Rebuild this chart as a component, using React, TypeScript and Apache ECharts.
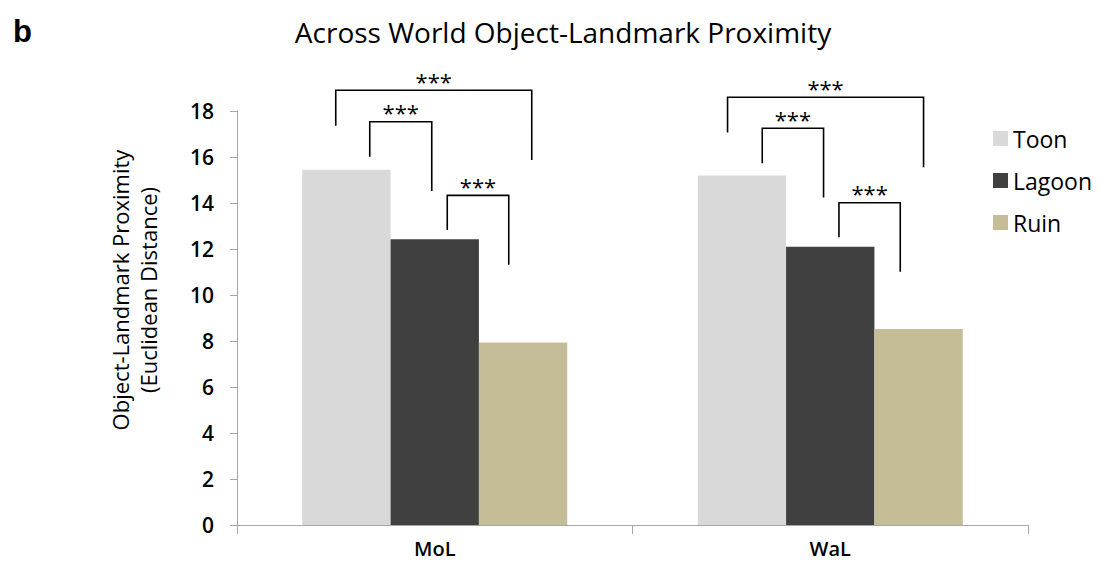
import React, { useEffect, useRef } from "react";
import * as echarts from "echarts";

// Worlds on the x axis and the three environments drawn as bars
const worlds = ["MoL", "WaL"];
const toon = [15.45, 15.2];
const lagoon = [12.42, 12.1];
const ruin = [7.94, 8.52];
const yTicks = { min: 0, max: 18, interval: 2 };

// Significance brackets: world index, horizontal offsets from the world centre (px),
// then the bracket top and the lower ends of the left / right legs (data units)
const bracketWorld = [0, 0, 0, 1, 1, 1];
const bracketTop = [18.9, 17.53, 14.33, 18.6, 17.25, 14.01];
const bracketLeftEnd = [17.36, 16.01, 12.83, 17.06, 15.73, 12.51];
const bracketRightEnd = [15.87, 14.52, 11.32, 15.55, 14.24, 11.01];
const bracketLabel = ["***", "***", "***", "***", "***", "***"];
const bracketDx: [number, number][] = [
  [-99, 97],
  [-65, -3],
  [12.5, 74],
  [-102.7, 93.3],
  [-68, -6.7],
  [8.7, 70],
];

const FONT = "'Open Sans', 'Noto Sans', sans-serif";
const COLORS = ["#d9d9d9", "#404040", "#c4bd97"];

export default function App() {
  const ref = useRef<HTMLDivElement>(null);

  useEffect(() => {
    if (!ref.current) return;
    const chart = echarts.init(ref.current, undefined, { renderer: "svg" });

    const option: any = {
      animation: false,
      color: COLORS,
      textStyle: { fontFamily: FONT },
      grid: { left: 237, right: 71, top: 111, bottom: 45, containLabel: false },
      legend: {
        orient: "vertical",
        left: 988,
        top: 122,
        itemWidth: 15,
        itemHeight: 15,
        itemGap: 19,
        icon: "rect",
        textStyle: { fontSize: 23, color: "#000", fontFamily: FONT, padding: [0, 0, 0, 0] },
        data: ["Toon", "Lagoon", "Ruin"],
      },
      xAxis: {
        type: "category",
        data: worlds,
        axisLine: { lineStyle: { color: "#a6a6a6", width: 1 } },
        axisTick: { show: true, length: 9, lineStyle: { color: "#a6a6a6" } },
        axisLabel: { fontSize: 20, fontWeight: 600, color: "#000", margin: 13, fontFamily: FONT },
      },
      yAxis: {
        type: "value",
        min: yTicks.min,
        max: yTicks.max,
        interval: yTicks.interval,
        axisLine: { show: true, lineStyle: { color: "#a6a6a6", width: 1 } },
        axisTick: { show: true, length: 7, lineStyle: { color: "#a6a6a6" } },
        splitLine: { show: false },
        axisLabel: { fontSize: 21, fontWeight: 600, color: "#000", margin: 23, fontFamily: FONT },
      },
      series: [
        { name: "Toon", type: "bar", data: toon, barGap: "0%", barCategoryGap: "33%" },
        { name: "Lagoon", type: "bar", data: lagoon, barGap: "0%", barCategoryGap: "33%" },
        { name: "Ruin", type: "bar", data: ruin, barGap: "0%", barCategoryGap: "33%" },
      ],
    };
    chart.setOption(option);

    const px = (w: number, v: number) => chart.convertToPixel({ gridIndex: 0 }, [w, v]) as number[];

    const graphics: any[] = [
      {
        type: "text",
        left: 13,
        top: 16,
        style: { text: "b", font: "bold 31px 'Liberation Sans', Arial, sans-serif", fill: "#000" },
      },
      {
        type: "text",
        x: 563,
        y: 32,
        style: {
          text: "Across World Object-Landmark Proximity",
          font: `28px ${FONT}`,
          fill: "#000",
          align: "center",
          verticalAlign: "middle",
        },
      },
      {
        type: "text",
        x: 134,
        y: 290,
        rotation: Math.PI / 2,
        style: {
          text: "Object-Landmark Proximity\n(Euclidean Distance)",
          font: `22px ${FONT}`,
          lineHeight: 28,
          fill: "#000",
          align: "center",
          verticalAlign: "middle",
        },
      },
    ];

    bracketWorld.forEach((w, i) => {
      const cx = px(w, 0)[0];
      const x1 = cx + bracketDx[i][0];
      const x2 = cx + bracketDx[i][1];
      const yTop = px(w, bracketTop[i])[1];
      const yL = px(w, bracketLeftEnd[i])[1];
      const yR = px(w, bracketRightEnd[i])[1];
      graphics.push({
        type: "polyline",
        shape: { points: [[x1, yL], [x1, yTop], [x2, yTop], [x2, yR]] },
        style: { stroke: "#000", lineWidth: 1.6, fill: null },
      });
      graphics.push({
        type: "text",
        x: (x1 + x2) / 2,
        y: yTop - 9.5,
        style: {
          text: bracketLabel[i],
          font: `22px ${FONT}`,
          fill: "#000",
          align: "center",
          verticalAlign: "middle",
        },
      });
    });

    chart.setOption({ graphic: graphics });

    return () => chart.dispose();
  }, []);

  return <div ref={ref} style={{ width: 1099, height: 570, position: "absolute", left: 0, top: 0 }} />;
}
